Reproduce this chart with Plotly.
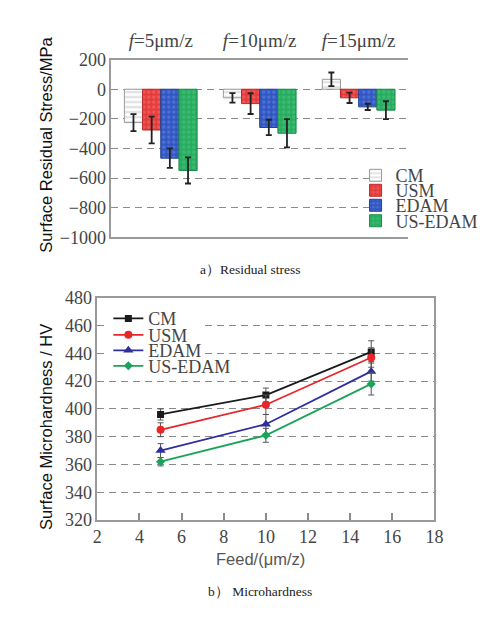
"""Residual stress (a) and microhardness (b) for CM / USM / EDAM / US-EDAM."""
import plotly.graph_objects as go

# page is 503x620; the browser's 8px body margin is taken off the figure size
PAD = 8
W, H = 503 - 2 * PAD, 620 - 2 * PAD

# ---- (a) surface residual stress, MPa ----
feed_labels = ["<i>f</i>=5μm/z", "<i>f</i>=10μm/z", "<i>f</i>=15μm/z"]
methods = ["CM", "USM", "EDAM", "US-EDAM"]
stress_cm = [-225, -58, 67]
stress_usm = [-275, -97, -58]
stress_edam = [-465, -258, -119]
stress_usedam = [-548, -297, -141]
stress_err_cm = [57, 32, 46]
stress_err_usm = [90, 70, 35]
stress_err_edam = [66, 52, 21]
stress_err_usedam = [88, 95, 60]

# ---- (b) surface microhardness, HV ----
feed = [5, 10, 15]
hv_cm = [396, 410, 441]
hv_usm = [385, 403, 437]
hv_edam = [370, 389, 427]
hv_usedam = [362, 381, 418]
hv_err_cm = [4, 5, 8]
hv_err_usm = [5, 7, 7]
hv_err_edam = [5, 7, 7]
hv_err_usedam = [3, 5, 8]

stress = [stress_cm, stress_usm, stress_edam, stress_usedam]
stress_err = [stress_err_cm, stress_err_usm, stress_err_edam, stress_err_usedam]
hv = [hv_cm, hv_usm, hv_edam, hv_usedam]
hv_err = [hv_err_cm, hv_err_usm, hv_err_edam, hv_err_usedam]

SERIF = "Liberation Serif, Times New Roman, serif"
SANS = "Liberation Sans, Arial, sans-serif"

# fill, border, pattern colour, pattern shape
bar_style = [
    ("#ffffff", "#9a9a9a", "#b0b0b0", "-"),
    ("#e63b3b", "#b82a2a", "#f47c7c", "."),
    ("#3156c4", "#22408f", "#6f8ee0", "."),
    ("#26ad5f", "#1b8a49", "#5cc88a", "."),
]
line_style = [
    ("#1a1a1a", "square", 7),
    ("#e8262a", "circle", 8),
    ("#2e2e9e", "triangle-up", 9),
    ("#1aa35a", "diamond", 7),
]


def px_x(p):
    return (p - PAD) / W


def px_y(p):
    return 1 - (p - PAD) / H


fig = go.Figure()

# one small legend per entry so the rows can sit as tight as in the paper figure
legend_y_a = [171, 186.5, 202, 218]
legend_y_b = [319, 336, 352, 368]
legends = {}
legend_font = dict(family=SERIF, size=18, color="#444444")

for i, m in enumerate(methods):
    fill, edge, fg, shape = bar_style[i]
    lg = "legend" if i == 0 else f"legend{i + 1}"
    fig.add_bar(
        x=feed_labels, y=stress[i], name=m, xaxis="x", yaxis="y", legend=lg,
        marker=dict(color=fill, line=dict(color=edge, width=1),
                    pattern=dict(shape=shape, fgcolor=fg, size=5, solidity=0.35)),
        error_y=dict(type="data", array=stress_err[i], color="#222222",
                     thickness=1.8, width=3),
    )
    legends[lg] = dict(x=px_x(361), y=px_y(legend_y_a[i]), xanchor="left",
                       yanchor="middle", bgcolor="rgba(0,0,0,0)", font=legend_font)

for i, m in enumerate(methods):
    col, sym, size = line_style[i]
    lg = f"legend{i + 5}"
    fig.add_scatter(
        x=feed, y=hv[i], name=m, xaxis="x2", yaxis="y2", legend=lg,
        mode="lines+markers", line=dict(color=col, width=1.8),
        marker=dict(symbol=sym, size=size, color=col),
        error_y=dict(type="data", array=hv_err[i], color="#555555",
                     thickness=1, width=3),
    )
    legends[lg] = dict(x=px_x(107), y=px_y(legend_y_b[i]), xanchor="left",
                       yanchor="middle", bgcolor="rgba(0,0,0,0)", font=legend_font)

grid = dict(showgrid=True, gridcolor="#8a8a8a", gridwidth=1.2, griddash="7px,5px",
            zeroline=False)
axline = dict(showline=True, linecolor="#9a9a9a", linewidth=1.5)
tickf = dict(family=SERIF, size=18, color="#444444")

# white patches behind the legends, hiding the dashed grid there
legend_bg = [(381, 166, 486, 231), (106, 309, 204, 360), (106, 360, 232, 376)]
shapes = [dict(type="rect", xref="paper", yref="paper", layer="above",
               x0=px_x(a), x1=px_x(c), y0=px_y(d), y1=px_y(b),
               fillcolor="white", line=dict(width=0))
          for a, b, c, d in legend_bg]

fig.update_layout(
    width=W, height=H, margin=dict(l=0, r=0, t=0, b=0),
    paper_bgcolor="white", plot_bgcolor="white",
    barmode="group", bargap=0.265, bargroupgap=0,
    showlegend=True, shapes=shapes,
    xaxis=dict(domain=[px_x(110), px_x(415)], anchor="y", side="top",
               mirror=True, ticks="", showgrid=False, range=[-0.5, 2.5],
               tickfont=dict(family=SERIF, size=19, color="#444444"),
               ticklabelstandoff=3, **axline),
    yaxis=dict(domain=[px_y(235), px_y(51)], anchor="x", range=[-1000, 200],
               dtick=200, ticks="", tickfont=tickf, **grid, **axline),
    xaxis2=dict(domain=[px_x(95.7), px_x(442)], anchor="y2", range=[2, 18],
                dtick=2, ticks="inside", ticklen=7, tickcolor="#8a8a8a",
                tickwidth=1.5, mirror=True, showgrid=False, zeroline=False,
                tickfont=tickf, **axline),
    yaxis2=dict(domain=[px_y(527.3), px_y(297.3)], anchor="x2", range=[320, 480],
                dtick=20, ticks="", mirror=True, tickfont=tickf, **grid, **axline),
    **legends,
)

notes = [
    (43, 139, "Surface Residual Stress/MPa", -90, SANS, 16.5, "#111111"),
    (43, 431, "Surface Microhardness / HV", -90, SANS, 16.5, "#111111"),
    (263, 568, "Feed/(μm/z)", 0, SANS, 16.5, "#555555"),
    (253, 268, "a）Residual stress", 0, SERIF, 13.5, "#222222"),
    (263, 601, "b） Microhardness", 0, SERIF, 13.5, "#222222"),
]
for x, y, txt, ang, fam, sz, col in notes:
    fig.add_annotation(x=px_x(x), y=px_y(y), xref="paper", yref="paper",
                       text=txt, textangle=ang, showarrow=False,
                       xanchor="center", yanchor="middle",
                       font=dict(family=fam, size=sz, color=col))

fig.write_html("out.html", config={"displayModeBar": False})
